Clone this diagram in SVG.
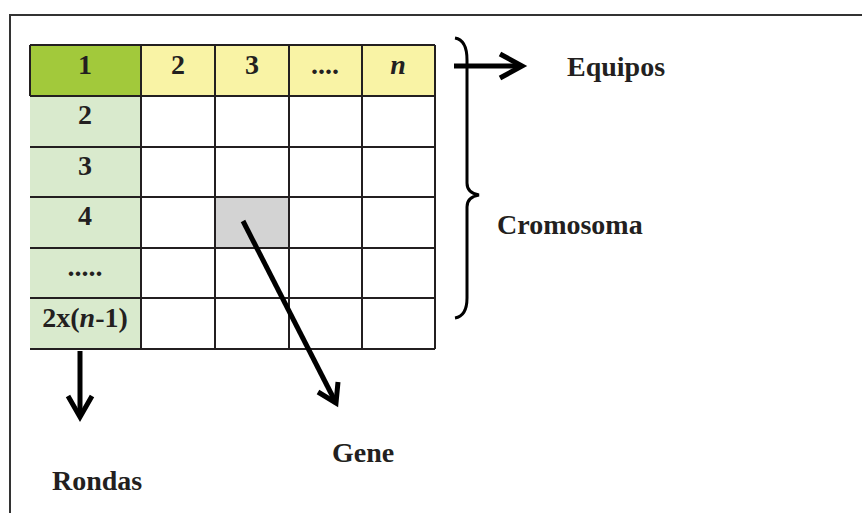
<svg xmlns="http://www.w3.org/2000/svg" width="862" height="513" viewBox="0 0 862 513">
  <style>
    text { font-family: "Liberation Serif", "Times New Roman", serif; font-weight: bold; fill: #231f20; }
    .cell-txt { font-size: 28px; text-anchor: middle; }
    .label { font-size: 28px; }
    .grid { stroke: #231f20; stroke-width: 2; fill: none; }
    .arrow { stroke: #000; stroke-width: 5; fill: none; stroke-linejoin: miter; }
  </style>

  <rect width="862" height="513" fill="#fff"/>

  <!-- outer frame (top and left edges) -->
  <path d="M10,513 V15 H862" fill="none" stroke="#333" stroke-width="2"/>

  <!-- chromosome table -->
  <g id="table">
    <!-- header row -->
    <rect x="30" y="45" width="111" height="51" fill="#a2c93b"/>
    <rect x="141" y="45" width="294" height="51" fill="#f9f3a5"/>
    <!-- round column -->
    <rect x="30" y="96" width="111" height="253" fill="#d9eacd"/>
    <!-- highlighted gene cell -->
    <rect x="215" y="197" width="74" height="51" fill="#d3d3d3"/>

    <g class="grid">
      <path d="M30,45 H435 M30,96 H435 M30,147 H435 M30,197 H435 M30,248 H435 M30,298 H435 M30,349 H435"/>
      <path d="M30,45 V96 M141,45 V349 M215,45 V349 M289,45 V349 M362,45 V349 M435,45 V349"/>
    </g>

    <text class="cell-txt" x="85" y="74">1</text>
    <text class="cell-txt" x="178" y="74">2</text>
    <text class="cell-txt" x="252" y="74">3</text>
    <text class="cell-txt" x="325" y="74">....</text>
    <text class="cell-txt" x="398" y="74" font-style="italic">n</text>

    <text class="cell-txt" x="85" y="124">2</text>
    <text class="cell-txt" x="85" y="175">3</text>
    <text class="cell-txt" x="85" y="225">4</text>
    <text class="cell-txt" x="85" y="276">.....</text>
    <text class="cell-txt" x="85" y="327">2x(<tspan font-style="italic">n</tspan>-1)</text>
  </g>

  <!-- brace spanning the chromosome -->
  <g id="brace">
    <path d="M455,38 Q467,40 467,60 L467,183 Q467,193 479,195 Q467,197 467,207 L467,298 Q467,316 455,318" fill="none" stroke="#000" stroke-width="3"/>
  </g>

  <g id="connectors">
    <!-- to Equipos -->
    <path class="arrow" d="M454,66 H522"/>
    <path class="arrow" d="M500,54 L522,66 L500,78"/>
    <!-- to Rondas -->
    <path class="arrow" d="M80,351 V417"/>
    <path class="arrow" d="M68,396 L80,417 L92,396"/>
    <!-- to Gene -->
    <path class="arrow" d="M243,221 L336,403"/>
    <path class="arrow" d="M318,392 L336,403 L338,382"/>
  </g>

  <g id="label-equipos"><text class="label" x="567" y="76">Equipos</text></g>
  <g id="label-cromosoma"><text class="label" x="497" y="234">Cromosoma</text></g>
  <g id="label-gene"><text class="label" x="332" y="462">Gene</text></g>
  <g id="label-rondas"><text class="label" x="52" y="490">Rondas</text></g>
</svg>
